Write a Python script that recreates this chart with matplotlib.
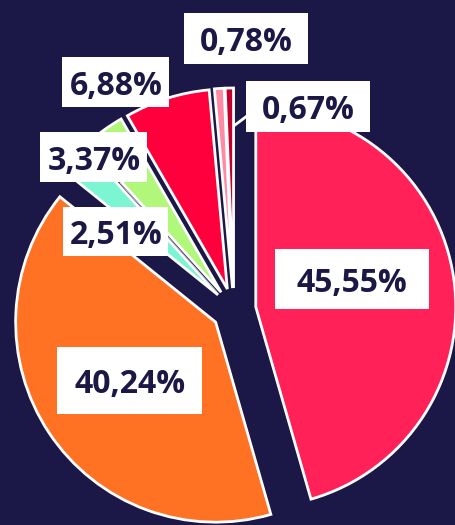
import matplotlib
matplotlib.use("Agg")
import matplotlib.pyplot as plt
from matplotlib.patches import Rectangle
import numpy as np

# slice data, clockwise from 12 o'clock
values = [45.55, 40.24, 2.51, 3.37, 6.88, 0.78, 0.67]
labels = ["45,55%", "40,24%", "2,51%", "3,37%", "6,88%", "0,78%", "0,67%"]
colors = ["#ff2158", "#ff7224", "#7cf5d2", "#b0f77a", "#ff003c", "#ff8aa5", "#c2002b"]

# label box layout (centre in axes data units, box size in pixels)
label_xy = [(0.59, 0.155), (-0.52, -0.35), (-0.59, 0.395), (-0.70, 0.765),
            (-0.59, 1.14), (0.06, 1.36), (0.37, 1.017)]
box_px = [(154, 60), (145, 67), (105, 49), (107, 50), (107, 50), (124, 51), (124, 51)]

bg = "#1b1746"
ink = "#1b1846"
px = 200.0  # pixels per data unit (pie radius)

fig = plt.figure(figsize=(4.56, 5.25), dpi=100, facecolor=bg)
ax = fig.add_axes([0, 0, 1, 1])
ax.set_facecolor(bg)

wedges, _ = ax.pie(values, colors=colors, startangle=90, counterclock=False,
                   explode=[0.11] * len(values), radius=1.0,
                   wedgeprops=dict(edgecolor="white", linewidth=2))

ax.set_xlim(-234 / px, 222 / px)
ax.set_ylim(-215 / px, 310 / px)
ax.set_aspect("equal")
ax.axis("off")

# leader lines
ax.plot([(235 - 234) / px, (247 - 234) / px], [(310 - 125) / px, (310 - 116) / px],
        color="white", lw=2, zorder=3)
ax.plot([(120 - 234) / px, (216 - 234) / px], [(310 - 183) / px, (310 - 291) / px],
        color="#b8b8c8", lw=0.7, zorder=3)

for (x, y), (w, h), lab in zip(label_xy, box_px, labels):
    ax.add_patch(Rectangle((x - w / 2 / px, y - h / 2 / px), w / px, h / px,
                           facecolor="white", edgecolor="none", zorder=4))
    ax.text(x, y, lab, ha="center", va="center_baseline", fontsize=23,
            fontweight="bold", family=["Open Sans", "DejaVu Sans"], color=ink, zorder=5)

fig.savefig("out.png", dpi=100, facecolor=bg)
